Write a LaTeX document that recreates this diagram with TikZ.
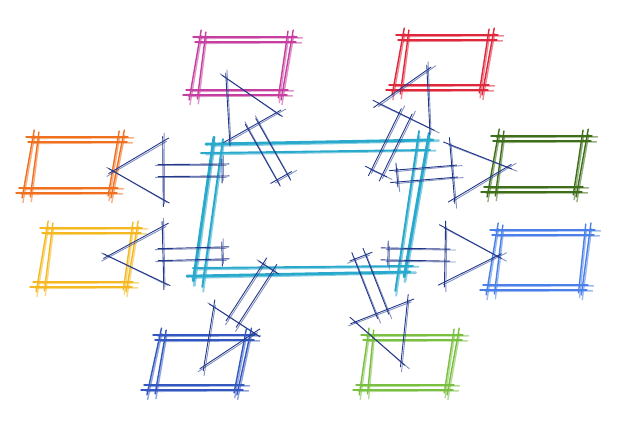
\documentclass[tikz,border=0pt]{standalone}
\usetikzlibrary{calc}
\definecolor{cpink}{HTML}{C63FA0}
\definecolor{cred}{HTML}{E0283C}
\definecolor{corange}{HTML}{F07020}
\definecolor{cdgreen}{HTML}{3E6E1A}
\definecolor{cyellow}{HTML}{F5B820}
\definecolor{cblue}{HTML}{4A80E8}
\definecolor{cblue2}{HTML}{3358C0}
\definecolor{cgreen}{HTML}{7AC040}
\definecolor{ccyan}{HTML}{29A9CC}
\definecolor{cnavy}{HTML}{22388A}
\tikzset{
  pen/.style={line width=1.4pt, line cap=round},
  arrowpen/.style={line width=0.9pt, line cap=round, cnavy},
  centerpen/.style={line width=2.8pt, line cap=round, ccyan},
}
\newcommand\skseg[3]{%
  \draw[pen,#1] ($(#2)!-7pt!(#3)$) -- ($(#3)!-5pt!(#2)$);
  \draw[pen,#1,opacity=.55] ($(#2)!-3pt!(#3)+(1.2,1.4)$) -- ($(#3)!-9pt!(#2)+(1.5,0.8)$);
}
\newcommand\skbox[6]{%
  \coordinate (#2-1) at #3; \coordinate (#2-2) at #4;
  \coordinate (#2-3) at #5; \coordinate (#2-4) at #6;
  \coordinate (#2-t1) at ($(#2-1)+(2,5)$); \coordinate (#2-t2) at ($(#2-2)+(-1,5)$);
  \coordinate (#2-b1) at ($(#2-4)+(3,-5)$); \coordinate (#2-b2) at ($(#2-3)+(1,-5)$);
  \coordinate (#2-l1) at ($(#2-1)+(5,2)$);  \coordinate (#2-l2) at ($(#2-4)+(8,-1)$);
  \coordinate (#2-r1) at ($(#2-2)+(-5,1)$); \coordinate (#2-r2) at ($(#2-3)+(-3,-2)$);
  \skseg{#1}{#2-1}{#2-2}\skseg{#1}{#2-t1}{#2-t2}
  \skseg{#1}{#2-4}{#2-3}\skseg{#1}{#2-b1}{#2-b2}
  \skseg{#1}{#2-1}{#2-4}\skseg{#1}{#2-l1}{#2-l2}
  \skseg{#1}{#2-2}{#2-3}\skseg{#1}{#2-r1}{#2-r2}
}
\newcommand\skarrow[7]{%
  \coordinate (#2-s) at #3; \coordinate (#2-e) at #4;
  \coordinate (#2-m) at ($(#2-e)!#7pt!(#2-s)$);
  \coordinate (#2-s1) at ($(#2-s)!#5pt!90:(#2-e)$);
  \coordinate (#2-s2) at ($(#2-s)!#5pt!-90:(#2-e)$);
  \coordinate (#2-b1) at ($(#2-m)!#5pt!-90:(#2-s)$);
  \coordinate (#2-b2) at ($(#2-m)!#5pt!90:(#2-s)$);
  \coordinate (#2-h1) at ($(#2-m)!#6pt!-90:(#2-s)$);
  \coordinate (#2-h2) at ($(#2-m)!#6pt!90:(#2-s)$);
  \skseg{#1}{#2-s1}{#2-b1}\skseg{#1}{#2-s2}{#2-b2}
  \skseg{#1}{#2-s1}{#2-s2}
  \skseg{#1}{#2-h1}{#2-h2}
  \skseg{#1}{#2-h1}{#2-e}\skseg{#1}{#2-h2}{#2-e}
}
\begin{document}
\begin{tikzpicture}[x=1pt,y=-1pt]
\useasboundingbox[fill=white] (0,0) rectangle (640,426);
% centre rectangle
\coordinate (c1) at (213,144); \coordinate (c2) at (428,140);
\coordinate (c3) at (405,272); \coordinate (c4) at (194,276);
\coordinate (c1i) at (208,153); \coordinate (c2i) at (425,150);
\coordinate (c3i) at (408,266); \coordinate (c4i) at (200,268);
\coordinate (c1l) at (222,146); \coordinate (c4l) at (203,282);
\coordinate (c2r) at (418,138); \coordinate (c3r) at (396,286);
\skseg{centerpen}{c1}{c2}\skseg{centerpen,line width=1.9pt}{c1i}{c2i}
\skseg{centerpen}{c4}{c3}\skseg{centerpen,line width=1.9pt}{c4i}{c3i}
\skseg{centerpen}{c1}{c4}\skseg{centerpen,line width=1.9pt}{c1l}{c4l}
\skseg{centerpen}{c2}{c3}\skseg{centerpen,line width=1.9pt}{c2r}{c3r}
% outer boxes
\skbox{cpink}{pink}{(200,37)}{(292,37)}{(282,95)}{(190,95)}
\skbox{cred}{red}{(403,35)}{(493,35)}{(483,90)}{(393,90)}
\skbox{corange}{orange}{(33,137)}{(123,137)}{(112,193)}{(23,193)}
\skbox{cdgreen}{dgreen}{(498,136)}{(587,136)}{(577,192)}{(488,192)}
\skbox{cyellow}{yellow}{(47,228)}{(137,228)}{(127,287)}{(37,287)}
\skbox{cblue}{rblue}{(497,230)}{(590,230)}{(582,290)}{(487,290)}
\skbox{cblue2}{lblue}{(160,335)}{(250,335)}{(238,390)}{(148,390)}
\skbox{cgreen}{green}{(368,335)}{(458,335)}{(448,390)}{(360,390)}
% arrows
\skarrow{arrowpen}{a1}{(222,170)}{(113,171)}{6}{29}{50}
\skarrow{arrowpen}{a2}{(222,253)}{(108,256)}{6}{28}{55}
\skarrow{arrowpen}{a3}{(397,176)}{(507,167)}{6}{27}{55}
\skarrow{arrowpen}{a4}{(388,254)}{(497,256)}{6}{27}{52}
\skarrow{arrowpen}{a5}{(282,177)}{(226,78)}{6}{27}{55}
\skarrow{arrowpen}{a6}{(377,172)}{(427,70)}{6}{28}{51}
\skarrow{arrowpen}{a7}{(268,267)}{(204,366)}{6}{24}{55}
\skarrow{arrowpen}{a8}{(360,257)}{(401,362)}{6}{28}{54}
\end{tikzpicture}
\end{document}
